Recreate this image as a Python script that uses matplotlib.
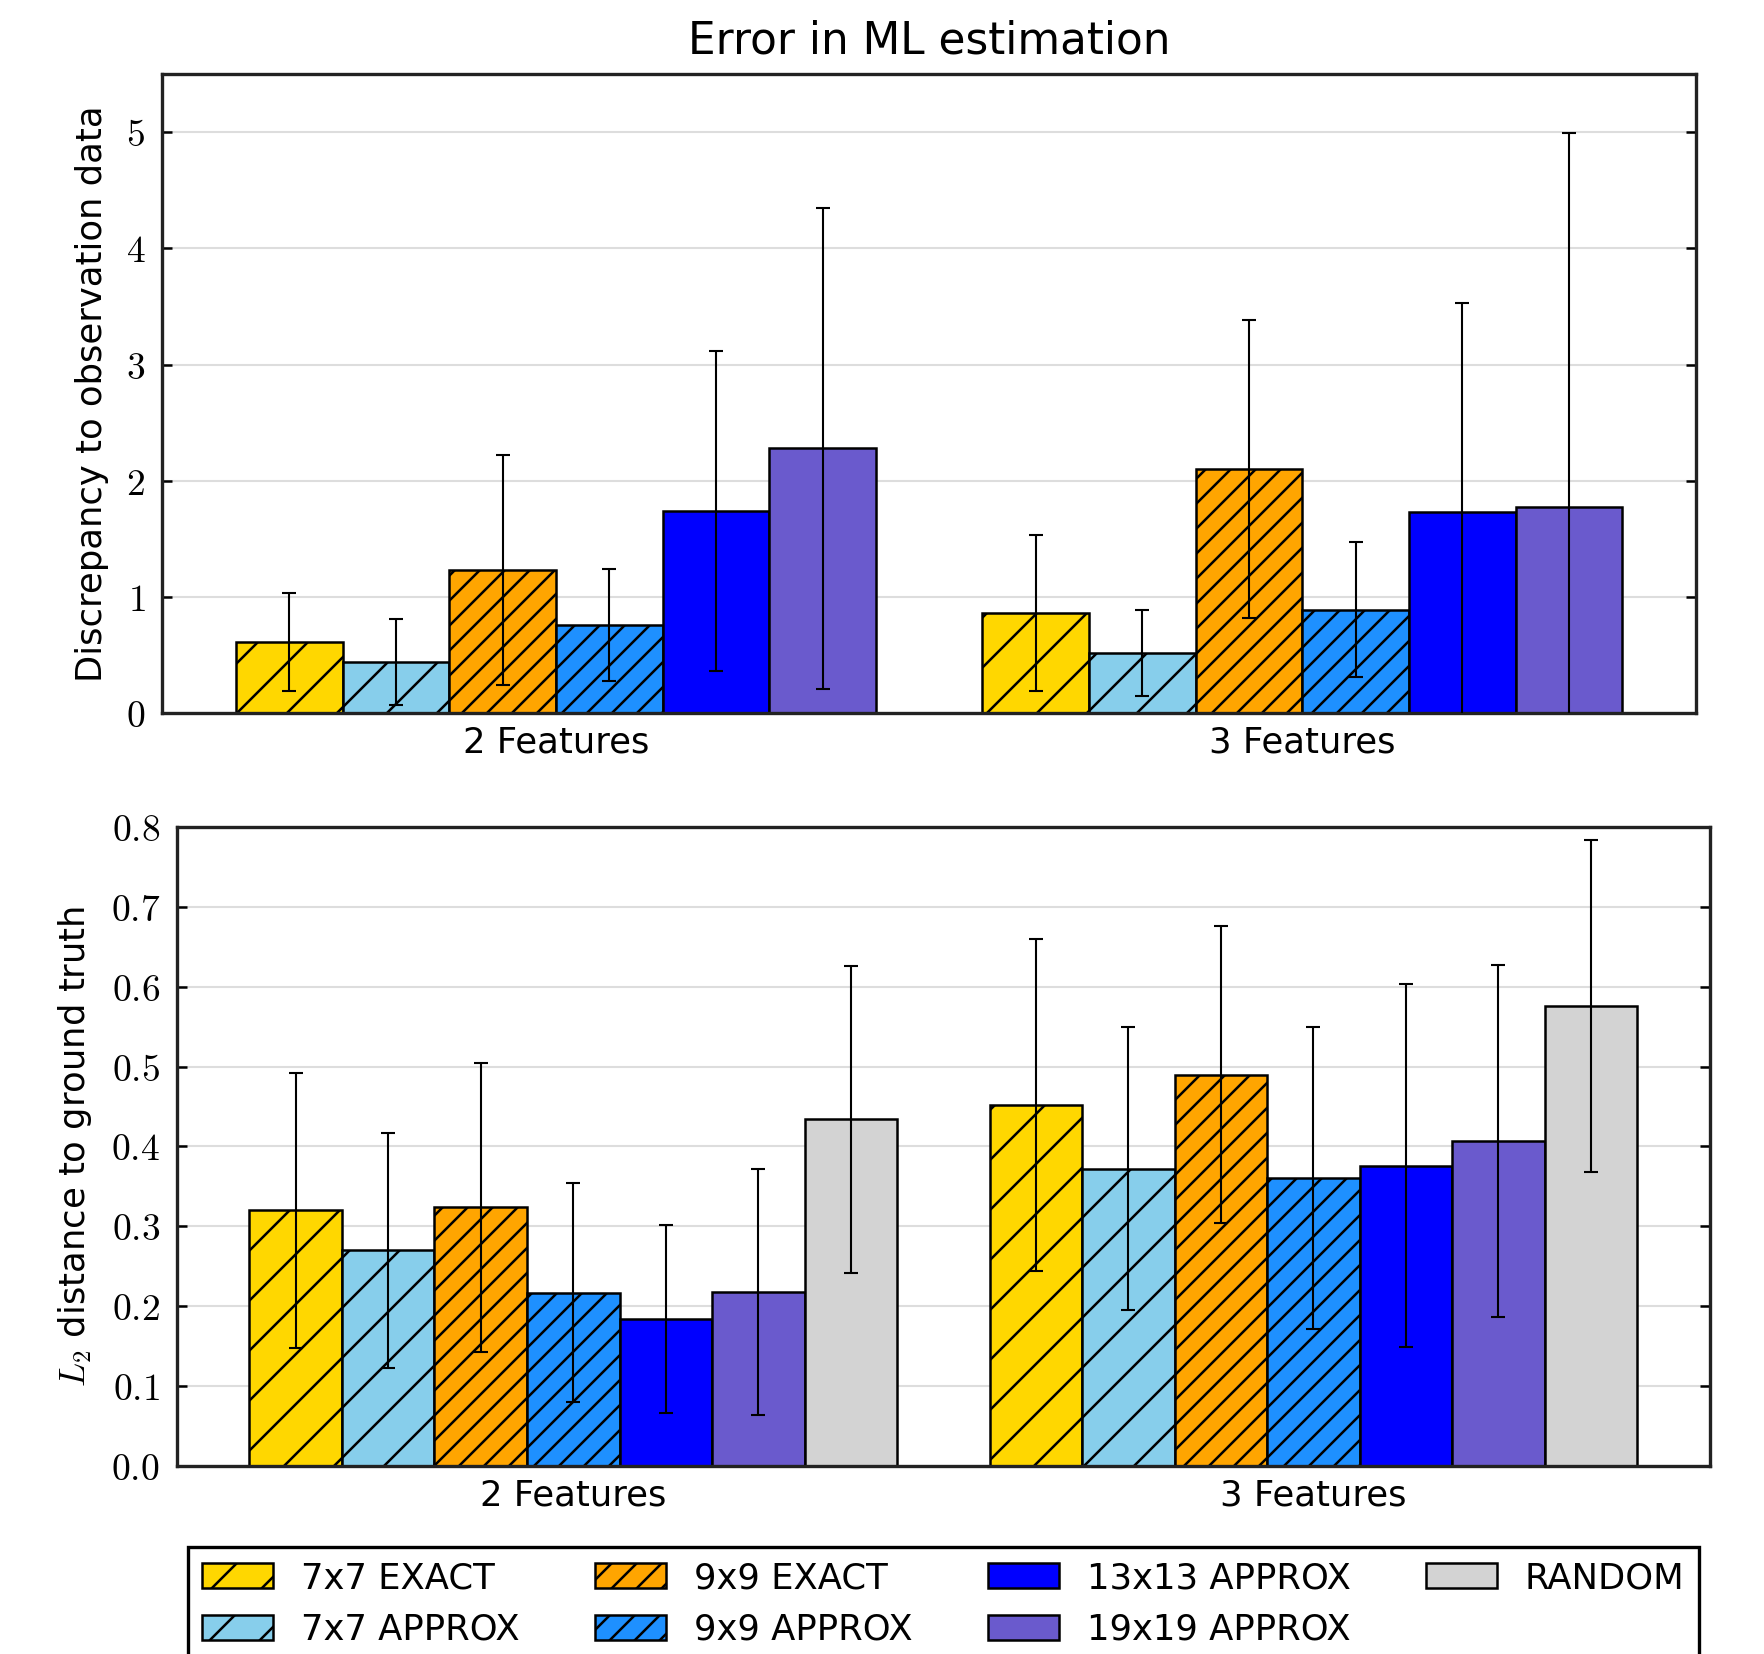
import numpy as np
import matplotlib
matplotlib.use("Agg")
from matplotlib import pyplot as plt
from matplotlib.ticker import FixedLocator, FuncFormatter

# series names / styles
series = ['7x7 EXACT', '7x7 APPROX', '9x9 EXACT', '9x9 APPROX',
          '13x13 APPROX', '19x19 APPROX', 'RANDOM']
colors = ['gold', 'skyblue', 'orange', 'dodgerblue', 'blue', 'slateblue', 'lightgray']
hatches = ['//', '//', '////', '////', '', '', '']
groups = ['2 Features', '3 Features']

# top plot: discrepancy to observation data (no RANDOM)
obs_mean = [[0.61, 0.86], [0.44, 0.52], [1.23, 2.10], [0.76, 0.89],
            [1.74, 1.73], [2.28, 1.77]]
obs_err = [[0.42, 0.67], [0.37, 0.37], [0.99, 1.28], [0.48, 0.58],
           [1.38, 1.80], [2.07, 3.22]]
obs_ticks = [0, 1, 2, 3, 4, 5]

# bottom plot: L2 distance to ground truth
gt_mean = [[0.320, 0.452], [0.270, 0.372], [0.324, 0.490], [0.217, 0.361],
           [0.184, 0.376], [0.218, 0.407], [0.434, 0.576]]
gt_err = [[0.172, 0.208], [0.147, 0.177], [0.181, 0.186], [0.137, 0.189],
          [0.118, 0.227], [0.154, 0.220], [0.192, 0.208]]
gt_ticks = [0.0, 0.1, 0.2, 0.3, 0.4, 0.5, 0.6, 0.7, 0.8]

plt.rcParams['font.family'] = ['DejaVu Sans']
plt.rcParams['mathtext.fontset'] = 'cm'
plt.rcParams['hatch.linewidth'] = 0.6


def bar_group(ax, means, errs, xpad):
    n = len(means)
    w = 1.0 / (n + 1)
    ind = np.arange(len(groups))
    for i in range(n):
        ax.bar(ind + (i - (n - 1) / 2.0) * w, means[i], w, yerr=errs[i],
               color=colors[i], hatch=hatches[i], edgecolor='black',
               linewidth=0.6, label=series[i], zorder=2,
               error_kw=dict(ecolor='black', elinewidth=0.5, capsize=1.7,
                             capthick=0.5, zorder=3))
    ax.set_xlim(-0.5 - xpad, 1.5 + xpad)
    ax.set_xticks(ind)
    ax.set_xticklabels(groups, fontsize=8.5)
    ax.tick_params(axis='x', length=0, pad=3)
    ax.tick_params(axis='y', direction='in', length=2.4, width=0.6,
                   right=True, labelsize=9, pad=4)
    ax.yaxis.grid(True, color='#dddddd', linewidth=0.5, zorder=0)
    ax.set_axisbelow(True)
    for s in ax.spines.values():
        s.set_linewidth(0.8)
        s.set_color('#222222')


fig = plt.figure(figsize=(1764 / 300.0, 1654 / 300.0), dpi=300)

ax1 = fig.add_axes([0.0918, 0.5689, 0.9617 - 0.0918, 0.9551 - 0.5689])
bar_group(ax1, obs_mean, obs_err, 0.028)
ax1.set_ylim(0, 5.5)
ax1.yaxis.set_major_locator(FixedLocator(obs_ticks))
ax1.yaxis.set_major_formatter(FuncFormatter(lambda v, p: r'$%d$' % v))
ax1.set_ylabel('Discrepancy to observation data', fontsize=8.5, labelpad=4)
ax1.set_title('Error in ML estimation', fontsize=10.5, pad=5)

ax2 = fig.add_axes([0.1001, 0.1137, 0.9694 - 0.1001, 0.5000 - 0.1137])
bar_group(ax2, gt_mean, gt_err, 0.036)
ax2.set_ylim(0, 0.8)
ax2.yaxis.set_major_locator(FixedLocator(gt_ticks))
ax2.yaxis.set_major_formatter(FuncFormatter(lambda v, p: r'$%.1f$' % v))
ax2.set_ylabel(r'$L_2$ distance to ground truth', fontsize=8.5, labelpad=4)

handles, labels = ax2.get_legend_handles_labels()
leg = fig.legend(handles, labels, loc='upper left', ncol=4, mode='expand',
                 bbox_to_anchor=(0.1065, 0.0647, 0.963 - 0.1065, 0),
                 borderaxespad=0, fontsize=8.5, fancybox=False, framealpha=1,
                 edgecolor='black', handlelength=2.0, handleheight=0.7,
                 handletextpad=0.8, labelspacing=0.5, borderpad=0.4)
leg.get_frame().set_linewidth(0.8)

plt.savefig('out.png', dpi=300)
